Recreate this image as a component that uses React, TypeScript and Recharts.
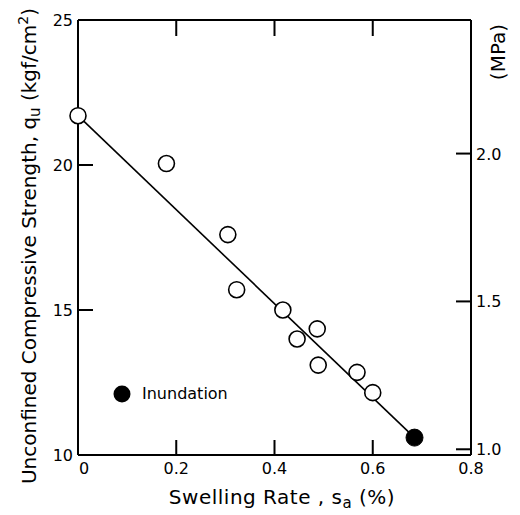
import React from 'react';
import {
  ScatterChart,
  Scatter,
  XAxis,
  YAxis,
  Legend,
} from 'recharts';

// swelling rate (%) vs unconfined compressive strength (kgf/cm2)
const swellRate = [0, 0.18, 0.305, 0.323, 0.417, 0.446, 0.487, 0.489, 0.568, 0.6];
const strength = [21.7, 20.05, 17.6, 15.7, 15.0, 14.0, 14.35, 13.1, 12.85, 12.15];

const inundationRate = [0.685];
const inundationStrength = [10.6];

const fitRate = [0, 0.685];
const fitStrength = [21.7, 10.6];

const xTicks = [0, 0.2, 0.4, 0.6, 0.8];
const yTicks = [10, 15, 20, 25];
const mpaTicks = [1.0, 1.5, 2.0];

const KGF_TO_MPA = 0.0980665;
const X_MIN = 0;
const X_MAX = 0.8;
const Y_MIN = 10;
const Y_MAX = 25;

const tested = swellRate.map((x, i) => ({ x, y: strength[i] }));
const inundation = inundationRate.map((x, i) => ({ x, y: inundationStrength[i] }));
const fit = fitRate.map((x, i) => ({ x, y: fitStrength[i] }));
// same points in MPa, only so the secondary axes get a domain
const testedMpa = tested.map((d) => ({ x: d.x, y: d.y * KGF_TO_MPA }));

// inward tick marks, anchored on the frame through the axis scales
const inner = (t: number[], lo: number, hi: number) => t.filter((v) => v > lo && v < hi);
const bottomMarks = inner(xTicks, X_MIN, X_MAX).map((x) => ({ x, y: Y_MIN }));
const topMarks = inner(xTicks, X_MIN, X_MAX).map((x) => ({ x, y: Y_MAX }));
const leftMarks = inner(yTicks, Y_MIN, Y_MAX).map((y) => ({ x: X_MIN, y }));
const rightMarks = mpaTicks.map((y) => ({ x: X_MAX, y }));

const FONT = '"DejaVu Sans", "Liberation Sans", sans-serif';
const TICK_LEN = 15;
const TICK_W = 2;
const TICK_COLOR = '#000';

const W = 520;
const H = 515;

const UpMark = (p: any) => (
  <rect x={p.cx - TICK_W / 2} y={p.cy - TICK_LEN} width={TICK_W} height={TICK_LEN} fill={TICK_COLOR} />
);
const DownMark = (p: any) => (
  <rect x={p.cx - TICK_W / 2} y={p.cy} width={TICK_W} height={TICK_LEN + 1} fill={TICK_COLOR} />
);
const RightMark = (p: any) => (
  <rect x={p.cx} y={p.cy - TICK_W / 2} width={TICK_LEN} height={TICK_W} fill={TICK_COLOR} />
);
const LeftMark = (p: any) => (
  <rect x={p.cx - TICK_LEN} y={p.cy - TICK_W / 2} width={TICK_LEN} height={TICK_W} fill={TICK_COLOR} />
);

const BottomTick = (props: any) => {
  const { x, y, payload } = props;
  const v = payload.value;
  return (
    <text x={x + (v === 0 ? 6 : 0)} y={y + 19} textAnchor="middle" fontSize={16} fontFamily={FONT} fill="#000">
      {v === 0 ? '0' : v.toFixed(1)}
    </text>
  );
};

const LeftTick = (props: any) => {
  const { x, y, payload } = props;
  return (
    <text x={x - 5} y={y + 6} textAnchor="end" fontSize={16} fontFamily={FONT} fill="#000">
      {payload.value}
    </text>
  );
};

const RightTick = (props: any) => {
  const { x, y, payload } = props;
  return (
    <text x={x + 5} y={y + 6} textAnchor="start" fontSize={16} fontFamily={FONT} fill="#000">
      {payload.value.toFixed(1)}
    </text>
  );
};

const LeftLabel = () => {
  const cx = 36;
  const cy = 246;
  return (
    <text
      x={cx}
      y={cy}
      transform={`rotate(-90, ${cx}, ${cy})`}
      textAnchor="middle"
      fontSize={20}
      fontFamily={FONT}
      fill="#000"
    >
      Unconfined Compressive Strength,  q
      <tspan dy={4} fontSize={15}>u</tspan>
      <tspan dy={-4}> (kgf/cm</tspan>
      <tspan dy={-8} fontSize={14}>2</tspan>
      <tspan dy={8}>)</tspan>
    </text>
  );
};

const RightLabel = () => {
  const cx = W - 15;
  const cy = 52;
  return (
    <text
      x={cx}
      y={cy}
      transform={`rotate(-90, ${cx}, ${cy})`}
      textAnchor="middle"
      fontSize={20}
      fontFamily={FONT}
      fill="#000"
    >
      (MPa)
    </text>
  );
};

const BottomLabel = () => {
  const cx = 282;
  const cy = H - 11;
  return (
    <text x={cx} y={cy} textAnchor="middle" fontSize={20} letterSpacing={0.5} fontFamily={FONT} fill="#000">
      Swelling Rate ,  s
      <tspan dy={4} fontSize={15}>a</tspan>
      <tspan dy={-4}> (%)</tspan>
    </text>
  );
};

const OpenCircle = (props: any) => (
  <circle cx={props.cx} cy={props.cy} r={8} fill="#fff" stroke="#000" strokeWidth={1.6} />
);

const FilledCircle = (props: any) => (
  <circle cx={props.cx} cy={props.cy} r={8.5} fill="#000" stroke="#000" />
);

const LegendContent = () => (
  <div style={{ display: 'flex', alignItems: 'center', fontFamily: FONT, fontSize: 16 }}>
    <svg width={18} height={18}>
      <circle cx={9} cy={9} r={8.5} fill="#000" />
    </svg>
    <span style={{ marginLeft: 11 }}>Inundation</span>
  </div>
);

const axisLine = { stroke: '#000', strokeWidth: 2 };
const noShape = () => <g />;

const App: React.FC = () => {
  return (
    <div style={{ position: 'absolute', left: 0, top: 0, background: '#fff' }}>
      <ScatterChart width={W} height={H} margin={{ top: 0, right: 0, bottom: 0, left: 0 }}>
        <XAxis
          type="number"
          dataKey="x"
          xAxisId={0}
          domain={[X_MIN, X_MAX]}
          ticks={xTicks}
          interval={0}
          height={60}
          tickSize={0}
          tickMargin={0}
          tickLine={false}
          axisLine={axisLine}
          tick={<BottomTick />}
          label={<BottomLabel />}
        />
        <XAxis
          type="number"
          dataKey="x"
          xAxisId="top"
          orientation="top"
          domain={[X_MIN, X_MAX]}
          allowDataOverflow
          ticks={xTicks}
          height={20}
          tickLine={false}
          axisLine={axisLine}
          tick={false}
        />
        <YAxis
          type="number"
          dataKey="y"
          yAxisId={0}
          domain={[Y_MIN, Y_MAX]}
          ticks={yTicks}
          interval={0}
          width={78}
          tickSize={0}
          tickMargin={0}
          tickLine={false}
          axisLine={axisLine}
          tick={<LeftTick />}
          label={<LeftLabel />}
        />
        <YAxis
          type="number"
          dataKey="y"
          yAxisId="mpa"
          orientation="right"
          domain={[Y_MIN * KGF_TO_MPA, Y_MAX * KGF_TO_MPA]}
          allowDataOverflow
          ticks={mpaTicks}
          interval={0}
          width={49}
          tickSize={0}
          tickMargin={0}
          tickLine={false}
          axisLine={axisLine}
          tick={<RightTick />}
          label={<RightLabel />}
        />
        <Legend
          layout="horizontal"
          verticalAlign="middle"
          align="center"
          content={<LegendContent />}
          wrapperStyle={{ position: 'absolute', left: 113, top: 384, width: 'auto', height: 'auto' }}
        />
        <Scatter data={testedMpa} xAxisId="top" yAxisId="mpa" shape={noShape} legendType="none" isAnimationActive={false} />
        <Scatter data={bottomMarks} xAxisId={0} yAxisId={0} shape={<UpMark />} legendType="none" isAnimationActive={false} />
        <Scatter data={topMarks} xAxisId={0} yAxisId={0} shape={<DownMark />} legendType="none" isAnimationActive={false} />
        <Scatter data={leftMarks} xAxisId={0} yAxisId={0} shape={<RightMark />} legendType="none" isAnimationActive={false} />
        <Scatter data={rightMarks} xAxisId="top" yAxisId="mpa" shape={<LeftMark />} legendType="none" isAnimationActive={false} />
        <Scatter
          data={fit}
          xAxisId={0}
          yAxisId={0}
          line={{ stroke: '#000', strokeWidth: 1.6 }}
          shape={noShape}
          legendType="none"
          isAnimationActive={false}
        />
        <Scatter
          name="tested"
          data={tested}
          xAxisId={0}
          yAxisId={0}
          shape={<OpenCircle />}
          legendType="none"
          isAnimationActive={false}
        />
        <Scatter
          name="Inundation"
          data={inundation}
          xAxisId={0}
          yAxisId={0}
          shape={<FilledCircle />}
          isAnimationActive={false}
        />
      </ScatterChart>
    </div>
  );
};

export default App;
